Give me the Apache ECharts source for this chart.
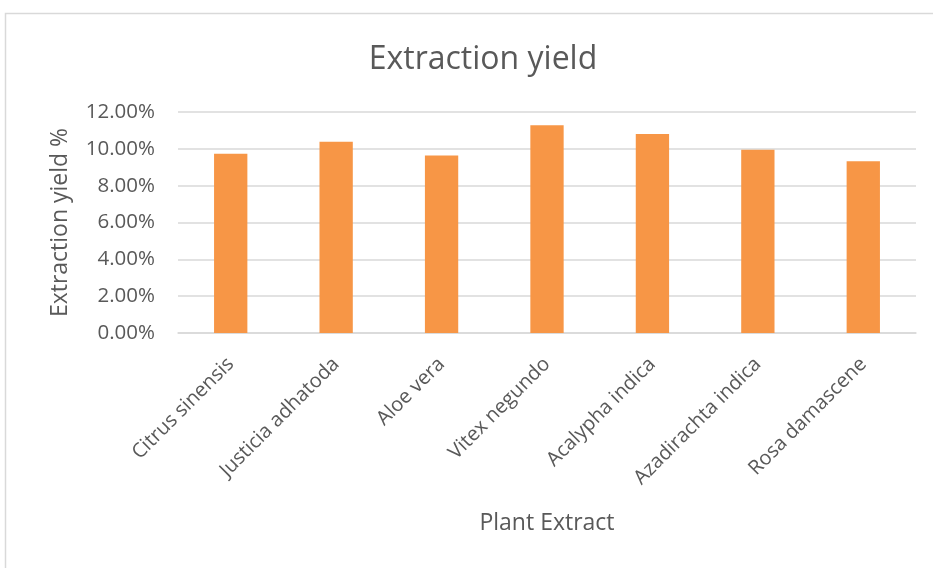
<!DOCTYPE html>
<html>
<head>
<meta charset="utf-8">
<script src="https://cdn.jsdelivr.net/npm/echarts@6/dist/echarts.min.js"></script>
<style>
  html, body { margin: 0; padding: 0; background: #fff; }
  #main { width: 933px; height: 568px; }
</style>
</head>
<body>
<div id="main"></div>
<script>
// plant extracts and their yield (%)
const plants = ['Citrus sinensis', 'Justicia adhatoda', 'Aloe vera', 'Vitex negundo',
  'Acalypha indica', 'Azadirachta indica', 'Rosa damascene']
const yieldPct = [9.73, 10.38, 9.64, 11.28, 10.80, 9.95, 9.33]
const yTicks = [0, 2, 4, 6, 8, 10, 12]

const textColor = '#595959'
const font = 'Open Sans'

const chart = echarts.init(document.getElementById('main'))

const option = {
  animation: false,
  backgroundColor: '#fff',
  title: {
    text: 'Extraction yield',
    left: 478,
    top: 39,
    textAlign: 'center',
    textStyle: { color: textColor, fontFamily: font, fontSize: 32, fontWeight: 'normal' }
  },
  // outer chart border, cut by the page edges
  graphic: [{
    type: 'rect',
    shape: { x: 5.5, y: 13.5, width: 1000, height: 700 },
    style: { fill: 'none', stroke: '#d9d9d9', lineWidth: 1.5 },
    silent: true
  }],
  grid: { left: 178, right: 17, top: 112, bottom: 235 },
  xAxis: {
    type: 'category',
    data: plants,
    name: 'Plant Extract',
    nameLocation: 'middle',
    nameGap: 179,
    nameTextStyle: { color: textColor, fontFamily: font, fontSize: 23 },
    axisLine: { lineStyle: { color: '#d9d9d9', width: 1.5 } },
    axisTick: { show: false },
    axisLabel: {
      rotate: 45,
      interval: 0,
      margin: 28,
      color: textColor,
      fontFamily: font,
      fontSize: 20
    }
  },
  yAxis: {
    type: 'value',
    min: yTicks[0],
    max: yTicks[yTicks.length - 1],
    interval: 2,
    name: 'Extraction yield %',
    nameLocation: 'middle',
    nameRotate: 90,
    nameGap: 106,
    nameTextStyle: { color: textColor, fontFamily: font, fontSize: 23 },
    axisLine: { show: false },
    axisTick: { show: false },
    splitLine: { lineStyle: { color: '#d9d9d9', width: 1.5 } },
    axisLabel: {
      margin: 23,
      color: textColor,
      fontFamily: font,
      fontSize: 20.5,
      formatter: v => v.toFixed(2) + '%'
    }
  },
  series: [{
    type: 'bar',
    data: yieldPct,
    barWidth: '31.6%',
    itemStyle: { color: '#f79646' }
  }]
}

chart.setOption(option)
</script>
</body>
</html>
